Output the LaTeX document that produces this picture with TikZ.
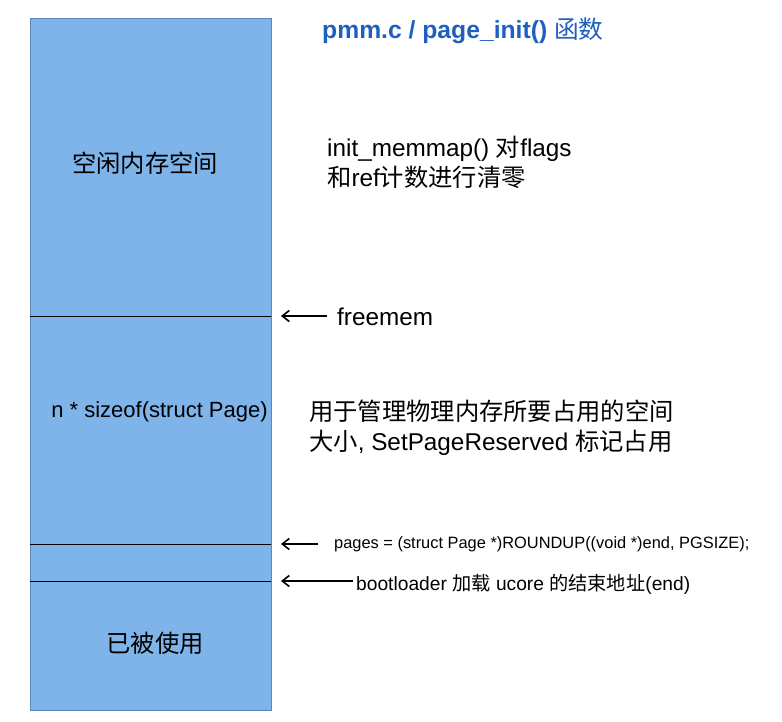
\documentclass[tikz,border=0pt]{standalone}
\usepackage{fontspec}
\setmainfont{Liberation Sans}
\newfontfamily\cjk{Noto Sans CJK SC}
\usetikzlibrary{arrows.meta, positioning}
\definecolor{memblue}{HTML}{7EB4EA}
\definecolor{memedge}{HTML}{5A86B8}
\definecolor{titleblue}{HTML}{1F5FC0}
\newcommand{\zh}[1]{{\cjk #1}}

\begin{document}
\begin{tikzpicture}[x=1pt, y=-1pt,
    note/.style={inner sep=0pt, anchor=west, align=left, font=\fontsize{24.3}{30}\selectfont},
    ptr/.style={-{Straight Barb[length=7pt,width=11pt]}, line width=1.6pt},
    sep/.style={line width=0.8pt}]
  \useasboundingbox (0,0) rectangle (782,721);
  % memory column
  \node[draw=memedge, fill=memblue, line width=0.8pt, minimum width=241pt, minimum height=692pt, inner sep=0pt] (mem) at (150.5,364) {};
  \foreach \y/\n in {316/free, 544/pages, 581/end} {
    \coordinate (\n L) at (30,\y);
    \coordinate (\n R) at (271,\y);
    \draw[sep] (\n L) -- (\n R);
  }
  \node[font=\cjk\fontsize{24.3}{30}\selectfont] (freelbl) at (145,163) {空闲内存空间};
  \node[font=\fontsize{22}{26}\selectfont, inner sep=0pt] (pagelbl) at (159.5,412) {n * sizeof(struct Page)};
  \node[font=\cjk\fontsize{24.3}{30}\selectfont] (usedlbl) at (155,643) {已被使用};
  % notes on the right
  \node[note, text=titleblue, font=\bfseries\fontsize{24.7}{30}\selectfont] (title) at (322,31) {pmm.c / page\_init() {\mdseries\cjk 函数}};
  \node[note] (initnote) at (327,162) {init\_memmap() \zh{对}flags\\\zh{和}ref\zh{计数进行清零}};
  \node[note] (usenote) at (309,428) {\zh{用于管理物理内存所要占用的空间}\\\zh{大小}, SetPageReserved \zh{标记占用}};
  \node[note] (freemem) at (337,317) {freemem};
  \node[note, font=\fontsize{16.4}{20}\selectfont] (pagesnote) at (334,544) {pages = (struct Page *)ROUNDUP((void *)end, PGSIZE);};
  \node[note, font=\fontsize{19.2}{24}\selectfont] (endnote) at (356,584) {bootloader \zh{加载} ucore \zh{的结束地址}(end)};
  % pointers
  \draw[ptr, shorten <=10pt, shorten >=10pt] (freemem.west |- freeR) -- (freeR);
  \draw[ptr, shorten <=16pt, shorten >=10pt] (pagesnote.west |- pagesR) -- (pagesR);
  \draw[ptr, shorten <=3pt, shorten >=10pt] (endnote.west |- endR) -- (endR);
\end{tikzpicture}
\end{document}
